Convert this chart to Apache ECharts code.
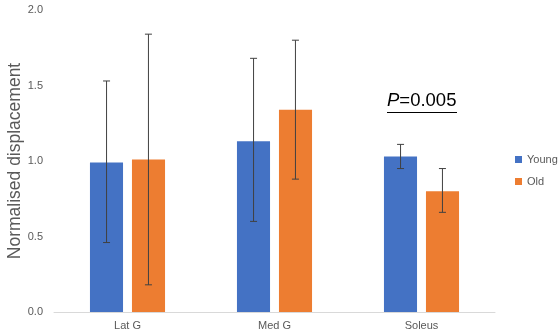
<!DOCTYPE html>
<html>
<head>
<meta charset="utf-8">
<script src="https://cdn.jsdelivr.net/npm/echarts@6/dist/echarts.min.js"></script>
<style>
  html, body { margin: 0; padding: 0; background: #fff; }
  #chart { width: 560px; height: 336px; }
</style>
</head>
<body>
<div id="chart"></div>
<script>
// data
const muscles = ['Lat G', 'Med G', 'Soleus']
const youngMean = [0.99, 1.13, 1.03]
const youngLow = [0.46, 0.6, 0.95]
const youngHigh = [1.53, 1.68, 1.11]
const oldMean = [1.01, 1.34, 0.8]
const oldLow = [0.18, 0.88, 0.66]
const oldHigh = [1.84, 1.8, 0.95]
const yTicks = [0, 0.5, 1.0, 1.5, 2.0]

const blue = '#4472c4'
const orange = '#ed7d31'
const grey = '#595959'
const font = 'Liberation Sans, Arial, sans-serif'

// error bar drawer, offset = fraction of the category band
function errorBars(low, high, offset) {
  return {
    type: 'custom',
    z: 10,
    silent: true,
    data: muscles.map((m, i) => [i, low[i], high[i]]),
    renderItem(params, api) {
      const band = api.size([1, 0])[0]
      const x = api.coord([api.value(0), 0])[0] + offset * band
      const top = api.coord([api.value(0), api.value(2)])[1]
      const bot = api.coord([api.value(0), api.value(1)])[1]
      const cap = 3.5
      const style = { stroke: '#404040', lineWidth: 1 }
      return {
        type: 'group',
        children: [
          { type: 'line', shape: { x1: x, y1: top, x2: x, y2: bot }, style },
          { type: 'line', shape: { x1: x - cap, y1: top, x2: x + cap, y2: top }, style },
          { type: 'line', shape: { x1: x - cap, y1: bot, x2: x + cap, y2: bot }, style }
        ]
      }
    }
  }
}

const option = {
  animation: false,
  textStyle: { fontFamily: font },
  grid: { left: 54, right: 65, top: 10, bottom: 24, outerBoundsMode: 'none', containLabel: false },
  legend: {
    orient: 'vertical',
    left: 510,
    top: 149,
    itemWidth: 7,
    itemHeight: 7,
    itemGap: 11,
    icon: 'rect',
    textStyle: { color: grey, fontSize: 11, fontFamily: font },
    data: ['Young', 'Old']
  },
  xAxis: {
    type: 'category',
    data: muscles,
    axisLine: { lineStyle: { color: '#d9d9d9' } },
    axisTick: { show: false },
    axisLabel: { color: grey, fontSize: 11, margin: 8 }
  },
  yAxis: {
    type: 'value',
    min: 0,
    max: 2,
    interval: 0.5,
    name: 'Normalised displacement',
    nameLocation: 'middle',
    nameGap: 30,
    nameMoveOverlap: false,
    nameTextStyle: { color: grey, fontSize: 17.5, fontFamily: font },
    axisLine: { show: false },
    axisTick: { show: false },
    splitLine: { show: false },
    axisLabel: {
      color: grey,
      fontSize: 11,
      margin: 11,
      formatter: v => yTicks.includes(v) ? v.toFixed(1) : ''
    }
  },
  series: [
    { name: 'Young', type: 'bar', data: youngMean, barWidth: '22.5%', barGap: '27%', itemStyle: { color: blue } },
    { name: 'Old', type: 'bar', data: oldMean, barWidth: '22.5%', barGap: '27%', itemStyle: { color: orange } },
    errorBars(youngLow, youngHigh, -0.1425),
    errorBars(oldLow, oldHigh, 0.1425)
  ],
  graphic: [
    {
      type: 'text',
      left: 387,
      top: 91,
      style: {
        text: '{i|P}=0.005',
        fill: '#000',
        font: '18.5px ' + font,
        rich: { i: { fontStyle: 'italic', fontSize: 18.5, fontFamily: font, fill: '#000' } }
      }
    },
    {
      type: 'line',
      shape: { x1: 387, y1: 112.5, x2: 457, y2: 112.5 },
      style: { stroke: '#000', lineWidth: 1 }
    }
  ]
}

const chart = echarts.init(document.getElementById('chart'))
chart.setOption(option)
</script>
</body>
</html>
